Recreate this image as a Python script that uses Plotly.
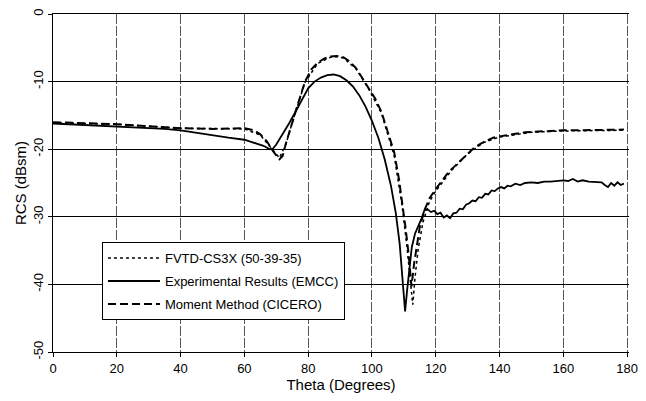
import plotly.graph_objects as go

# ---- data ----
exp_theta = [0, 5, 10, 15, 20, 25, 30, 35, 40, 45, 50, 55, 60, 63, 66, 68, 69, 70, 72, 74, 76, 78, 80, 82, 84,
             86, 88, 90, 92, 94, 96, 98, 100, 102, 104, 106, 107.5, 108.7, 109.6, 110.4, 111, 111.8, 112.5,
             113.5, 114.5, 115.5, 116.5, 117.5, 118.5, 119.5, 120.5, 121.5, 122.5, 123.5, 124.5, 125.5, 126.5,
             127.5, 128.5, 129.5, 130.5, 131.5, 132.5, 133.5, 134.5, 135.5, 136.5, 137.5, 138.5, 139.5, 140.5,
             141.5, 142.5, 143.5, 145, 146.5, 148, 150, 152, 154, 156, 158, 160, 161.5, 163, 164.5, 166, 168,
             170, 172, 173, 174, 175, 176, 177, 178, 179]
exp_rcs = [-16.2, -16.3, -16.4, -16.5, -16.6, -16.8, -16.9, -17.0, -17.2, -17.6, -17.9, -18.3, -18.6, -19.0,
           -19.5, -20.0, -19.9, -19.3, -17.8, -16.2, -14.5, -12.8, -11.0, -10.0, -9.4, -9.05, -8.95, -9.2, -9.8,
           -10.7, -12.0, -13.7, -15.8, -18.3, -21.5, -25.5, -29.5, -34.0, -39.0, -44.0, -41.0, -37.0, -34.5,
           -32.5, -31.5, -30.3, -29.0, -28.9, -29.3, -29.1, -29.6, -29.4, -30.1, -29.8, -30.2, -29.5, -29.4,
           -28.8, -28.9, -28.2, -28.0, -27.6, -27.7, -27.1, -27.2, -26.6, -26.7, -26.1, -26.2, -25.8, -25.6,
           -25.8, -25.4, -25.5, -25.1, -25.3, -25.0, -24.9, -25.0, -24.8, -24.8, -24.7, -24.6, -24.7, -24.4,
           -24.8, -24.6, -24.8, -24.8, -24.9, -25.3, -25.6, -25.0, -25.4, -24.9, -25.3, -25.1]

mom_theta = [0, 10, 20, 30, 40, 50, 55, 60, 63, 65, 67, 69, 71, 72, 73, 75, 77, 79, 81, 83, 85, 87, 89, 91,
             93, 95, 97, 99, 101, 103, 105, 107, 108.5, 109.5, 110.5, 111.5, 112.4, 113.2, 114, 115, 116.5,
             118, 120, 122, 124, 126, 128, 130, 132, 134, 136, 138, 140, 144, 148, 152, 156, 160, 165, 170,
             175, 179]
mom_rcs = [-16.0, -16.1, -16.3, -16.6, -16.9, -17.0, -16.9, -16.9, -17.2, -17.8, -18.8, -20.3, -21.5, -21.0,
           -19.2, -16.0, -13.0, -10.0, -8.2, -7.2, -6.6, -6.3, -6.2, -6.4, -7.0, -8.0, -9.5, -11.0, -12.5,
           -14.5, -17.5, -20.5, -24.5, -27.8, -31.5, -35.5, -40.3, -37.0, -34.5, -31.5, -29.0, -27.3, -25.9,
           -24.6, -23.4, -22.5, -21.6, -20.6, -19.8, -19.2, -18.7, -18.3, -18.1, -17.8, -17.5, -17.4, -17.3,
           -17.2, -17.2, -17.2, -17.1, -17.1]

fvtd_theta = [0, 20, 40, 60, 65, 69, 71, 73, 75, 79, 83, 87, 89, 91, 95, 99, 103, 107, 109.5, 111, 112,
              112.8, 113.5, 114.5, 116, 118, 120, 125, 130, 135, 140, 150, 160, 170, 179]
fvtd_rcs = [-16.1, -16.3, -16.9, -17.0, -17.9, -20.2, -21.3, -19.3, -16.1, -10.1, -7.3, -6.4, -6.3, -6.5,
            -8.1, -11.1, -14.7, -21.0, -28.5, -34.5, -39.5, -43.0, -39.0, -34.8, -30.8, -27.8, -26.2, -23.1,
            -20.7, -19.0, -18.2, -17.5, -17.3, -17.2, -17.2]

x_ticks = [0, 20, 40, 60, 80, 100, 120, 140, 160, 180]
y_ticks = [0, -10, -20, -30, -40, -50]

FONT = "Liberation Sans, Arial, sans-serif"

fig = go.Figure()
fig.add_trace(go.Scatter(x=fvtd_theta, y=fvtd_rcs, mode="lines", name="FVTD-CS3X (50-39-35)",
                         legendgroup="a", line=dict(color="black", width=1.5, dash="dot")))
fig.add_trace(go.Scatter(x=exp_theta, y=exp_rcs, mode="lines", name="Experimental Results (EMCC)",
                         legendgroup="b", line=dict(color="black", width=1.8)))
fig.add_trace(go.Scatter(x=mom_theta, y=mom_rcs, mode="lines", name="Moment Method (CICERO)",
                         legendgroup="c", line=dict(color="black", width=2, dash="8px,4px")))

fig.update_layout(
    width=646, height=401,
    margin=dict(l=53, r=8, t=13, b=49),
    paper_bgcolor="white", plot_bgcolor="white",
    font=dict(family=FONT, color="black", size=13),
    showlegend=True,
    legend=dict(x=0.085, y=0.325, xanchor="left", yanchor="top",
                bgcolor="white", bordercolor="black", borderwidth=1,
                font=dict(size=13, family=FONT), tracegroupgap=3, itemwidth=52),
    xaxis=dict(range=[0, 180.6], tickvals=x_ticks, ticktext=[str(v) for v in x_ticks],
               showline=True, linecolor="black", linewidth=1, mirror=True,
               ticks="outside", ticklen=4, tickcolor="black", ticklabeloverflow="allow",
               showgrid=True, gridcolor="#555", gridwidth=1, griddash="10px,2px",
               zeroline=False, tickfont=dict(size=13),
               title=dict(text="Theta (Degrees)", font=dict(size=15), standoff=2)),
    yaxis=dict(range=[-50, 0], tickvals=y_ticks, ticktext=[str(v) for v in y_ticks],
               showline=True, linecolor="black", linewidth=1, mirror=False,
               ticks="outside", ticklen=4, tickcolor="black", tickangle=-90,
               showgrid=True, gridcolor="black", gridwidth=1,
               zeroline=False, tickfont=dict(size=13),
               title=dict(text="RCS (dBsm)", font=dict(size=15), standoff=0)),
)

fig.write_html("out.html")
